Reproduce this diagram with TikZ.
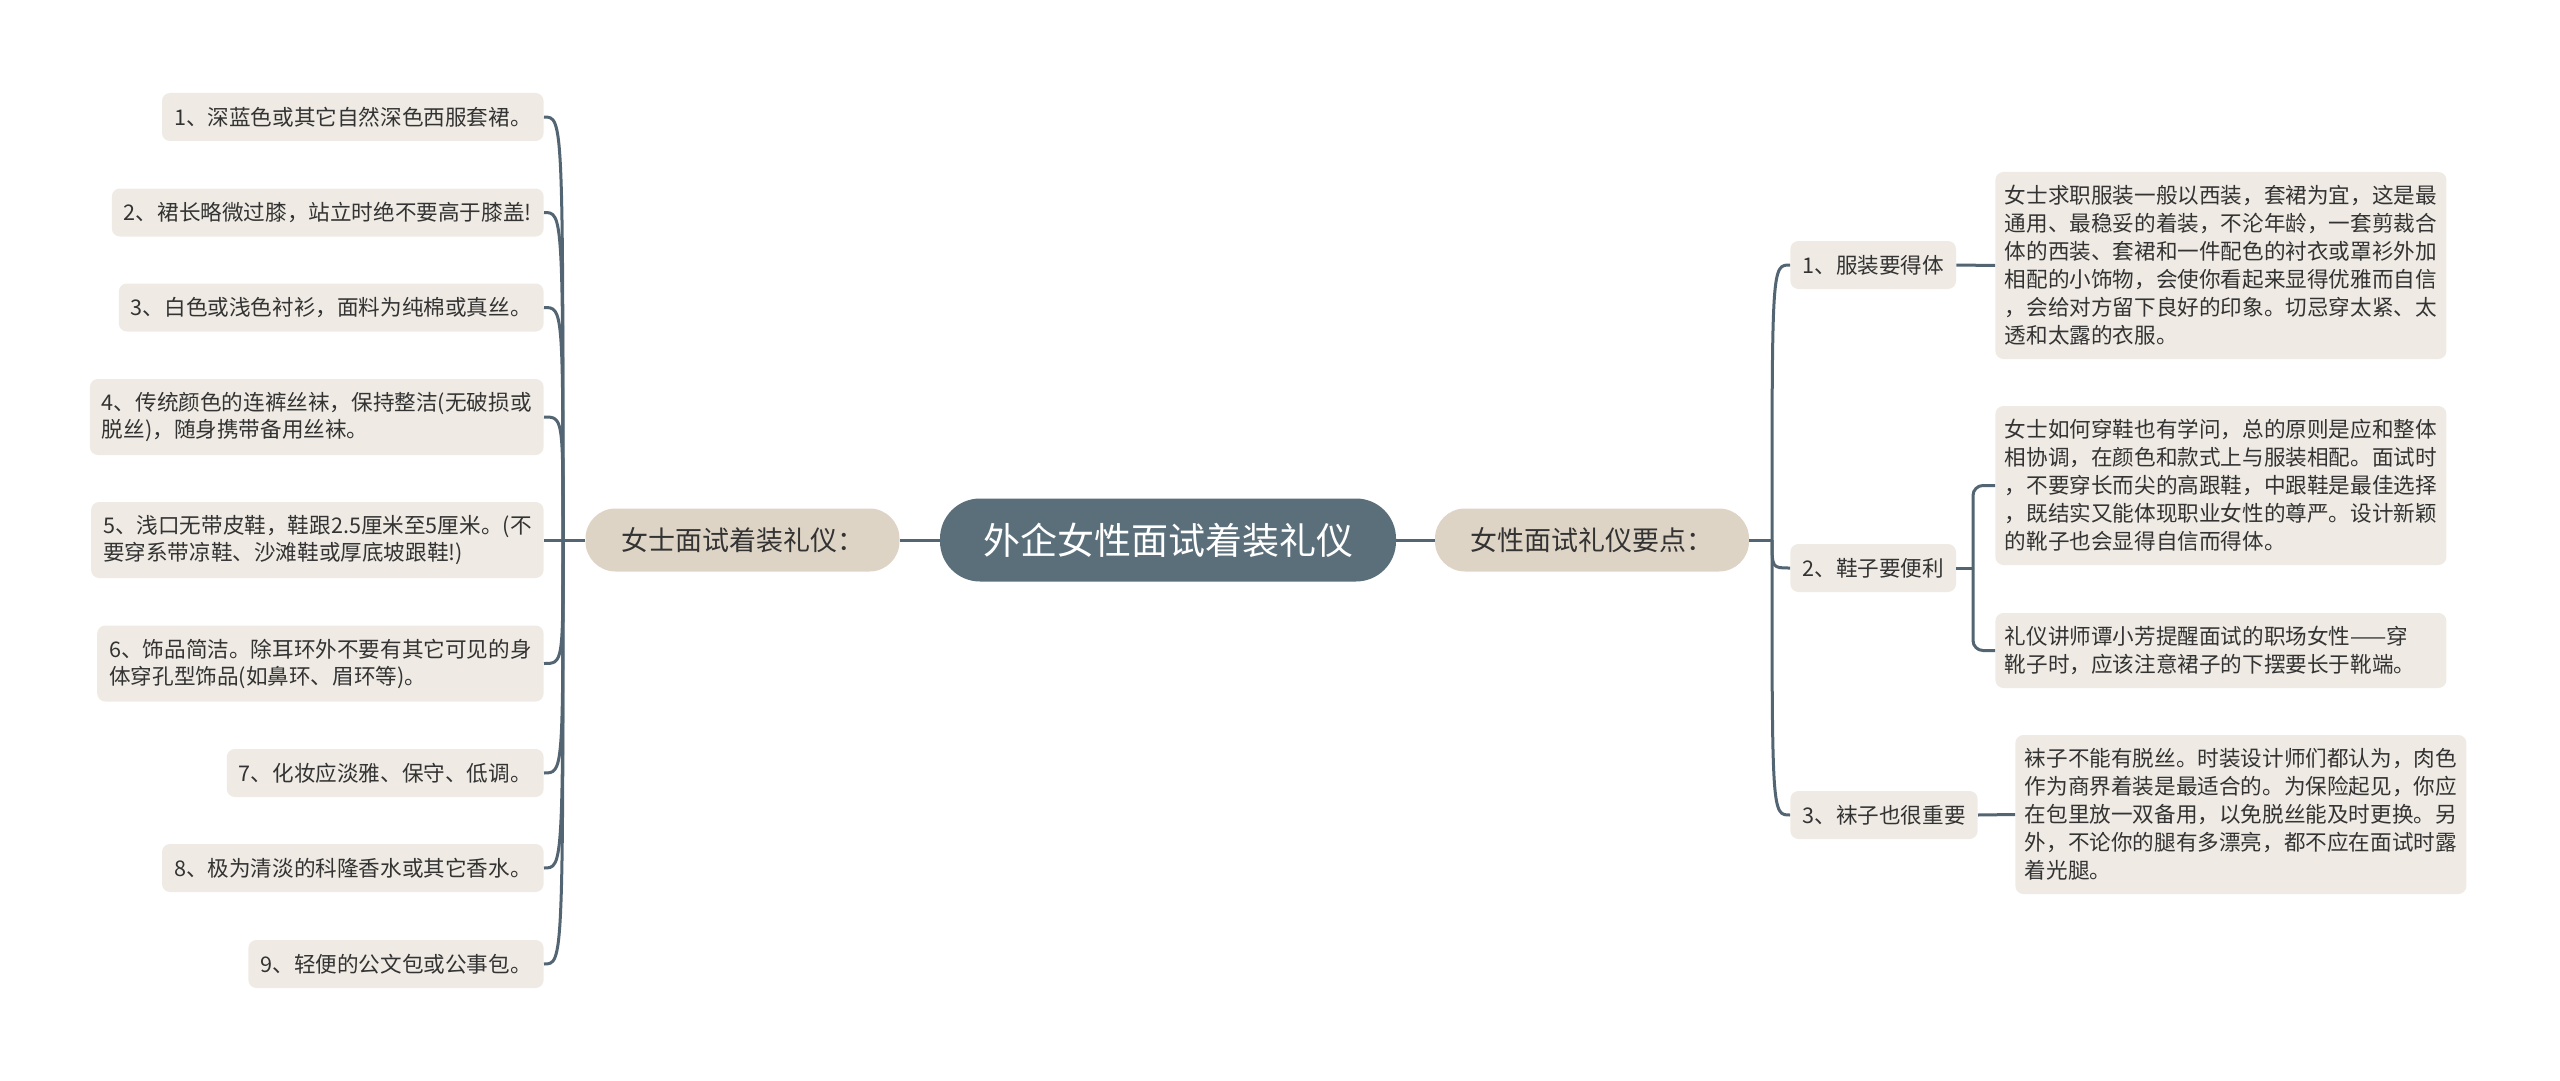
\documentclass[tikz,border=0pt]{standalone}
\usepackage{fontspec}
\setmainfont{Noto Sans CJK SC}
\usetikzlibrary{positioning}

\definecolor{rootfill}{HTML}{5B6F7B}
\definecolor{mainfill}{HTML}{DDD4C5}
\definecolor{leaffill}{HTML}{EFEBE4}
\definecolor{linecol}{HTML}{536572}
\definecolor{txt}{HTML}{333333}

\tikzset{
  rootbox/.style={fill=rootfill, text=white, rounded corners=20pt, minimum width=228pt,
    minimum height=41.5pt, inner sep=0pt, font=\fontsize{18.5}{22}\selectfont},
  mainbox/.style={fill=mainfill, text=txt, rounded corners=15pt, minimum width=157pt,
    minimum height=31.5pt, inner sep=0pt, font=\fontsize{13.5}{16}\selectfont},
  leftbox/.style={fill=leaffill, text=txt, rounded corners=4pt, anchor=east, align=left,
    inner xsep=6pt, inner ysep=0pt, minimum height=24pt, font=\fontsize{10.8}{13.5}\selectfont},
  subbox/.style={fill=leaffill, text=txt, rounded corners=4pt, anchor=west,
    inner xsep=6pt, inner ysep=0pt, minimum height=24pt, font=\fontsize{10.8}{14}\selectfont},
  notebox/.style={fill=leaffill, text=txt, rounded corners=4pt, anchor=west, align=left,
    text width=216pt, inner xsep=4.75pt, inner ysep=0pt, font=\fontsize{10.8}{14}\selectfont},
  link/.style={draw=linecol, line width=1.5pt},
}

\begin{document}
\begin{tikzpicture}[x=0.5pt, y=-0.5pt]
    \useasboundingbox (0,0) rectangle (2560,1081);

    \node[rootbox] (root) at (1168,540) {外企女性面试着装礼仪};
    \node[mainbox] (dress) at (742.5,540) {女士面试着装礼仪：};
    \node[mainbox] (keys) at (1592,540) {女性面试礼仪要点：};

    % left side
    \node[leftbox] (l1) at (544,117) {1、深蓝色或其它自然深色西服套裙。};
    \node[leftbox] (l2) at (544,212.5) {2、裙长略微过膝，站立时绝不要高于膝盖!};
    \node[leftbox] (l3) at (544,307.5) {3、白色或浅色衬衫，面料为纯棉或真丝。};
    \node[leftbox, minimum height=38pt] (l4) at (544,417) {4、传统颜色的连裤丝袜，保持整洁(无破损或\\脱丝)，随身携带备用丝袜。};
    \node[leftbox, minimum height=38pt] (l5) at (544,540) {5、浅口无带皮鞋，鞋跟2.5厘米至5厘米。(不\\要穿系带凉鞋、沙滩鞋或厚底坡跟鞋!)};
    \node[leftbox, minimum height=38pt] (l6) at (544,663.5) {6、饰品简洁。除耳环外不要有其它可见的身\\体穿孔型饰品(如鼻环、眉环等)。};
    \node[leftbox] (l7) at (544,773) {7、化妆应淡雅、保守、低调。};
    \node[leftbox] (l8) at (544,868) {8、极为清淡的科隆香水或其它香水。};
    \node[leftbox] (l9) at (544,964) {9、轻便的公文包或公事包。};

    % right side
    \node[subbox] (s1) at (1790,265) {1、服装要得体};
    \node[subbox] (s2) at (1790,568) {2、鞋子要便利};
    \node[subbox] (s3) at (1790,815) {3、袜子也很重要};

    \node[notebox, minimum height=93.5pt] (d1) at (1995,265.5) {女士求职服装一般以西装，套裙为宜，这是最\\通用、最稳妥的着装，不沦年龄，一套剪裁合\\体的西装、套裙和一件配色的衬衣或罩衫外加\\相配的小饰物，会使你看起来显得优雅而自信\\，会给对方留下良好的印象。切忌穿太紧、太\\透和太露的衣服。};
    \node[notebox, minimum height=79.5pt] (d2a) at (1995,485.5) {女士如何穿鞋也有学问，总的原则是应和整体\\相协调，在颜色和款式上与服装相配。面试时\\，不要穿长而尖的高跟鞋，中跟鞋是最佳选择\\，既结实又能体现职业女性的尊严。设计新颖\\的靴子也会显得自信而得体。};
    \node[notebox, minimum height=37.5pt] (d2b) at (1995,650.5) {礼仪讲师谭小芳提醒面试的职场女性——穿\\靴子时，应该注意裙子的下摆要长于靴端。};
    \node[notebox, minimum height=79.5pt] (d3) at (2015,814.5) {袜子不能有脱丝。时装设计师们都认为，肉色\\作为商界着装是最适合的。为保险起见，你应\\在包里放一双备用，以免脱丝能及时更换。另\\外，不论你的腿有多漂亮，都不应在面试时露\\着光腿。};

    \coordinate (jl) at (563,540);
    \coordinate (jr) at (1772,540);
    \coordinate (j2) at (1973,568);

    \draw[link] (root.west) -- (dress.east);
    \draw[link] (root.east) -- (keys.west);
    \draw[link] (dress.west) -- (jl);
    \draw[link] (keys.east) -- (jr);
    \foreach \n in {l1,l2,l3,l4,l5,l6,l7,l8,l9}
        \draw[link] (jl) .. controls (jl |- \n.east) .. (\n.east);
    \foreach \n in {s1,s2,s3}
        \draw[link] (jr) .. controls (jr |- \n.west) .. (\n.west);
    \draw[link] (s1.east) -- (d1.west);
    \draw[link] (s2.east) -- (j2);
    \draw[link, rounded corners=5pt] (j2) |- (d2a.west);
    \draw[link, rounded corners=5pt] (j2) |- (d2b.west);
    \draw[link] (s3.east) -- (d3.west);
\end{tikzpicture}
\end{document}
